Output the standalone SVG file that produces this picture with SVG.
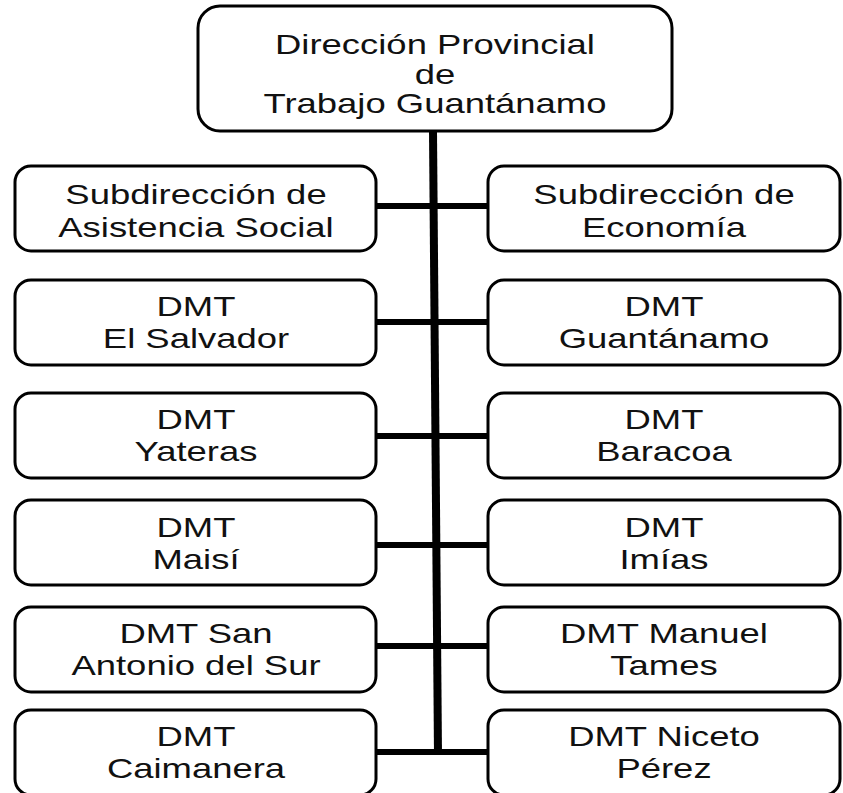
<svg xmlns="http://www.w3.org/2000/svg" width="843" height="793" viewBox="0 0 843 793">
  <style>
    .box { fill: #ffffff; stroke: #000000; stroke-width: 3; }
    .con { stroke: #000000; stroke-width: 6; fill: none; }
    .trunk { stroke: #000000; stroke-width: 8; fill: none; }
    .t { font-family: "Liberation Sans", Arial, sans-serif; font-size: 27px; fill: #111111; text-anchor: middle; }
  </style>
  <rect width="843" height="793" fill="#ffffff"/>

  <g id="connectors">
    <line class="trunk" x1="433" y1="131" x2="438" y2="755"/>
    <line class="con" x1="376" y1="206" x2="488" y2="206"/>
    <line class="con" x1="376" y1="322" x2="488" y2="322"/>
    <line class="con" x1="376" y1="436" x2="488" y2="436"/>
    <line class="con" x1="376" y1="545" x2="488" y2="545"/>
    <line class="con" x1="376" y1="646" x2="488" y2="646"/>
    <line class="con" x1="376" y1="752" x2="488" y2="752"/>
  </g>

  <g id="n0">
    <rect class="box" x="198" y="6" width="474" height="125" rx="22"/>
    <text class="t" transform="translate(435 54) scale(1.35 1)">Dirección Provincial</text>
    <text class="t" transform="translate(435 84) scale(1.35 1)">de</text>
    <text class="t" transform="translate(435 113) scale(1.35 1)">Trabajo Guantánamo</text>
  </g>

  <g id="n1">
    <rect class="box" x="15" y="166" width="361" height="85" rx="16"/>
    <text class="t" transform="translate(196 204) scale(1.35 1)">Subdirección de</text>
    <text class="t" transform="translate(196 237) scale(1.35 1)">Asistencia Social</text>
  </g>
  <g id="n2">
    <rect class="box" x="488" y="166" width="352" height="85" rx="16"/>
    <text class="t" transform="translate(664 204) scale(1.35 1)">Subdirección de</text>
    <text class="t" transform="translate(664 237) scale(1.35 1)">Economía</text>
  </g>

  <g id="n3">
    <rect class="box" x="15" y="280" width="361" height="85" rx="16"/>
    <text class="t" transform="translate(196 316) scale(1.35 1)">DMT</text>
    <text class="t" transform="translate(196 348) scale(1.35 1)">El Salvador</text>
  </g>
  <g id="n4">
    <rect class="box" x="488" y="280" width="352" height="85" rx="16"/>
    <text class="t" transform="translate(664 316) scale(1.35 1)">DMT</text>
    <text class="t" transform="translate(664 348) scale(1.35 1)">Guantánamo</text>
  </g>

  <g id="n5">
    <rect class="box" x="15" y="393" width="361" height="85" rx="16"/>
    <text class="t" transform="translate(196 429) scale(1.35 1)">DMT</text>
    <text class="t" transform="translate(196 461) scale(1.35 1)">Yateras</text>
  </g>
  <g id="n6">
    <rect class="box" x="488" y="393" width="352" height="85" rx="16"/>
    <text class="t" transform="translate(664 429) scale(1.35 1)">DMT</text>
    <text class="t" transform="translate(664 461) scale(1.35 1)">Baracoa</text>
  </g>

  <g id="n7">
    <rect class="box" x="15" y="500" width="361" height="85" rx="16"/>
    <text class="t" transform="translate(196 537) scale(1.35 1)">DMT</text>
    <text class="t" transform="translate(196 569) scale(1.35 1)">Maisí</text>
  </g>
  <g id="n8">
    <rect class="box" x="488" y="500" width="352" height="85" rx="16"/>
    <text class="t" transform="translate(664 537) scale(1.35 1)">DMT</text>
    <text class="t" transform="translate(664 569) scale(1.35 1)">Imías</text>
  </g>

  <g id="n9">
    <rect class="box" x="15" y="607" width="361" height="85" rx="16"/>
    <text class="t" transform="translate(196 643) scale(1.35 1)">DMT San</text>
    <text class="t" transform="translate(196 675) scale(1.35 1)">Antonio del Sur</text>
  </g>
  <g id="n10">
    <rect class="box" x="488" y="607" width="352" height="85" rx="16"/>
    <text class="t" transform="translate(664 643) scale(1.35 1)">DMT Manuel</text>
    <text class="t" transform="translate(664 675) scale(1.35 1)">Tames</text>
  </g>

  <g id="n11">
    <rect class="box" x="15" y="710" width="361" height="85" rx="16"/>
    <text class="t" transform="translate(196 746) scale(1.35 1)">DMT</text>
    <text class="t" transform="translate(196 778) scale(1.35 1)">Caimanera</text>
  </g>
  <g id="n12">
    <rect class="box" x="488" y="710" width="352" height="85" rx="16"/>
    <text class="t" transform="translate(664 746) scale(1.35 1)">DMT Niceto</text>
    <text class="t" transform="translate(664 778) scale(1.35 1)">Pérez</text>
  </g>
</svg>
